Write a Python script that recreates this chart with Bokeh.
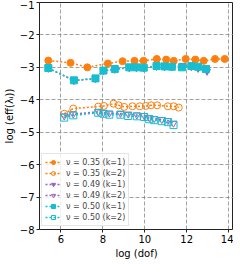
from bokeh.plotting import figure
from bokeh.models import Range1d, Legend, FixedTicker
from bokeh.embed import file_html
from bokeh.resources import INLINE

# nu = 0.35, k=1
x_o1 = [5.40, 6.46, 7.26, 8.24, 8.94, 9.51, 9.94, 10.57, 11.02, 11.38, 11.95, 12.41, 12.81, 13.35, 13.81]
y_o1 = [-2.79, -2.86, -3.00, -2.88, -2.81, -2.80, -2.80, -2.74, -2.76, -2.80, -2.74, -2.76, -2.80, -2.74, -2.74]
# nu = 0.35, k=2
x_o2 = [6.16, 6.59, 7.78, 8.05, 8.51, 8.75, 9.02, 9.41, 9.76, 10.05, 10.30, 10.59, 11.10, 11.38, 11.62]
y_o2 = [-4.43, -4.27, -4.21, -4.19, -4.12, -4.17, -4.22, -4.20, -4.20, -4.19, -4.17, -4.17, -4.20, -4.20, -4.24]
# nu = 0.49, k=1
x_p1 = [5.40, 6.62, 7.65, 8.03, 8.57, 9.26, 9.60, 9.95, 10.56, 10.94, 11.29, 11.80, 12.22, 12.54, 12.97]
y_p1 = [-3.03, -3.41, -3.35, -3.11, -3.06, -3.01, -3.01, -3.02, -2.97, -2.98, -2.99, -2.94, -2.98, -3.03, -3.12]
# nu = 0.49, k=2
x_p2 = [6.16, 6.59, 7.78, 8.03, 8.31, 8.84, 9.21, 9.62, 9.97, 10.21, 10.45, 10.81, 11.10, 11.37]
y_p2 = [-4.50, -4.44, -4.37, -4.40, -4.41, -4.42, -4.44, -4.47, -4.49, -4.55, -4.58, -4.61, -4.64, -4.72]
# nu = 0.50, k=1
x_c1 = [5.40, 6.62, 7.65, 8.03, 8.57, 9.26, 9.60, 9.95, 10.56, 10.94, 11.29, 11.77, 12.22, 12.54, 12.92]
y_c1 = [-3.02, -3.40, -3.34, -3.10, -3.05, -3.00, -3.00, -3.01, -2.96, -2.97, -2.98, -3.00, -2.96, -2.98, -3.05]
# nu = 0.50, k=2
x_c2 = [6.16, 6.59, 7.78, 8.03, 8.31, 8.84, 9.21, 9.62, 9.97, 10.21, 10.45, 10.81, 11.10, 11.37]
y_c2 = [-4.55, -4.48, -4.40, -4.43, -4.46, -4.46, -4.50, -4.51, -4.53, -4.60, -4.63, -4.66, -4.69, -4.78]

labels = ["ν = 0.35 (k=1)", "ν = 0.35 (k=2)", "ν = 0.49 (k=1)",
          "ν = 0.49 (k=2)", "ν = 0.50 (k=1)", "ν = 0.50 (k=2)"]
x_ticks = [6, 8, 10, 12, 14]
y_ticks = [-1, -2, -3, -4, -5, -6, -7, -8]

ORANGE = "#ff7f0e"
PURPLE = "#9467bd"
CYAN = "#17becf"
FONT = "DejaVu Sans"

p = figure(frame_width=194, frame_height=227, output_backend="svg", toolbar_location=None,
           x_range=Range1d(4.98, 14.23), y_range=Range1d(-8, -1),
           min_border_left=30, min_border_right=0, min_border_top=2, min_border_bottom=27)
p.background_fill_color = "white"
p.border_fill_color = "white"
p.outline_line_color = "#222222"
p.outline_line_width = 1

series = [
    (x_o1, y_o1, ORANGE, "circle", True),
    (x_o2, y_o2, ORANGE, "circle", False),
    (x_p1, y_p1, PURPLE, "inverted_triangle", True),
    (x_p2, y_p2, PURPLE, "inverted_triangle", False),
    (x_c1, y_c1, CYAN, "square", True),
    (x_c2, y_c2, CYAN, "square", False),
]
items = []
for (xs, ys, col, mk, filled), lab in zip(series, labels):
    r1 = p.line(xs, ys, line_color=col, line_width=1.5, line_dash="2 2")
    if filled:
        r2 = p.scatter(xs, ys, marker=mk, size=7, fill_color=col, line_color=col)
    else:
        r2 = p.scatter(xs, ys, marker=mk, size=7, fill_alpha=0, line_color=col, line_width=1)
    items.append((lab, [r1, r2]))

legend = Legend(items=items, location=(2, 3))
legend.label_text_font = FONT
legend.label_text_font_size = "8px"
legend.glyph_width = 16
legend.glyph_height = 10
legend.label_height = 10
legend.spacing = 1
legend.padding = 3
legend.margin = 0
legend.label_standoff = 5
legend.border_line_color = "#cccccc"
legend.border_line_width = 1
legend.background_fill_alpha = 0.8
p.add_layout(legend, "center")

for ax in (p.xaxis, p.yaxis):
    ax.major_label_text_font = FONT
    ax.major_label_text_font_size = "10px"
    ax.major_label_text_color = "black"
    ax.axis_label_text_font = FONT
    ax.axis_label_text_font_size = "10px"
    ax.axis_label_text_font_style = "normal"
    ax.axis_label_text_color = "black"
    ax.axis_line_color = None
    ax.major_tick_in = 0
    ax.major_tick_out = 3
    ax.minor_tick_line_color = None
    ax.major_tick_line_color = "#222222"

p.xaxis.ticker = FixedTicker(ticks=x_ticks)
p.yaxis.ticker = FixedTicker(ticks=y_ticks)
p.xaxis.major_label_overrides = {t: str(t) for t in x_ticks}
p.yaxis.major_label_overrides = {t: "\u2212" + str(-t) for t in y_ticks}
p.xaxis.axis_label = "log (dof)"
p.yaxis.axis_label = "log (eff(λᵢ))"
p.xaxis.axis_label_standoff = 2
p.yaxis.axis_label_standoff = 2
p.xaxis.major_label_standoff = 2
p.yaxis.major_label_standoff = 2

p.grid.grid_line_color = "#888888"
p.grid.grid_line_dash = "4 2"
p.grid.grid_line_width = 0.8

open("out.html", "w").write(file_html(p, INLINE))
